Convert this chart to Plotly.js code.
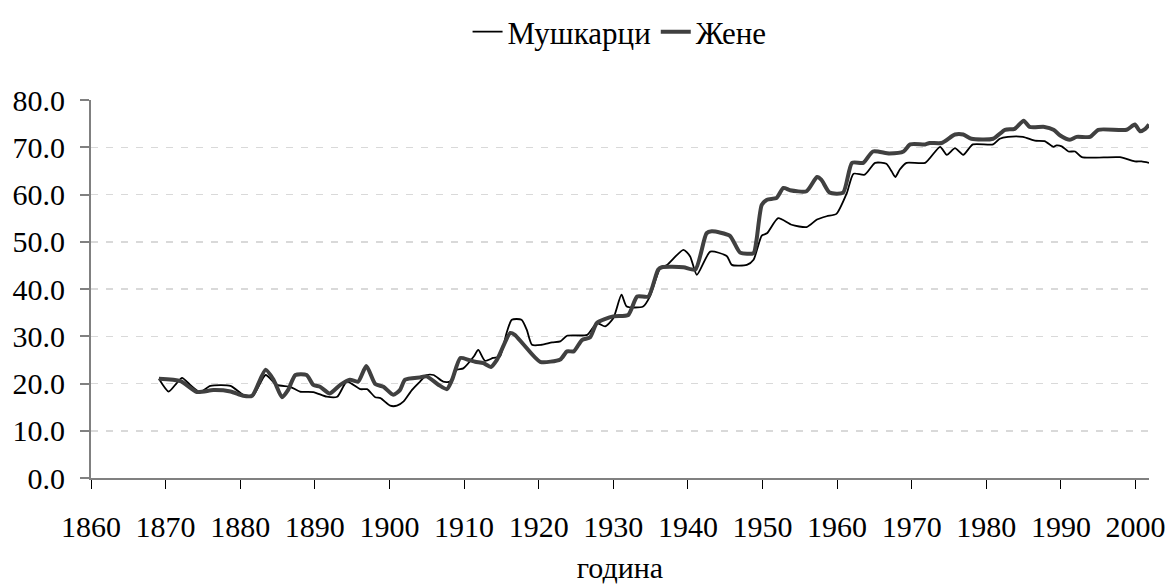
<!DOCTYPE html>
<html>
<head>
<meta charset="utf-8">
<script src="https://cdn.plot.ly/plotly-3.0.1.min.js"></script>
<style>html,body{margin:0;padding:0;background:#fff;}#chart{width:1169px;height:584px;}</style>
</head>
<body>
<div id="chart"></div>
<script>
// Мушкарци (men)
const maleYears = [1869.1,1870.4,1871.5,1872.2,1873.3,1874.6,1876.0,1878.7,1880.4,1881.7,1883.4,1884.9,1886.7,1888.0,1889.8,1891.6,1893.0,1894.3,1896.1,1897.0,1898.1,1898.8,1900.1,1901.0,1901.9,1903.0,1904.1,1905.0,1905.9,1907.2,1908.1,1909.0,1909.9,1911.3,1911.9,1912.8,1913.9,1914.8,1915.7,1916.4,1917.7,1918.4,1919.1,1920.4,1921.8,1922.9,1923.8,1926.5,1927.8,1928.9,1930.0,1931.1,1931.8,1934.0,1934.9,1936.3,1937.2,1939.4,1940.3,1941.2,1943.0,1945.2,1945.9,1947.9,1948.8,1949.9,1950.6,1952.1,1953.9,1955.9,1957.3,1958.6,1959.9,1961.3,1962.2,1963.7,1965.1,1966.6,1967.3,1967.8,1968.4,1969.3,1971.8,1973.8,1974.7,1975.8,1976.9,1978.2,1980.9,1981.8,1982.9,1984.9,1986.5,1987.8,1989.0,1989.4,1990.1,1991.0,1991.9,1992.8,1997.9,1999.9,2000.8,2001.8];
const maleValues = [21.0,18.3,20.1,21.2,19.7,18.2,19.5,19.5,17.6,17.4,21.8,19.7,19.3,18.3,18.2,17.2,17.2,20.4,18.8,18.8,17.1,16.9,15.3,15.3,16.2,18.6,20.4,21.8,21.8,20.4,20.4,22.9,23.2,25.7,27.1,24.8,25.4,25.7,30.7,33.5,33.5,31.4,28.2,28.2,28.7,28.9,30.1,30.3,32.8,32.1,33.8,38.8,36.3,36.3,38.4,44.4,45.1,48.3,46.9,43.0,47.9,47.0,45.1,45.1,46.2,51.3,51.8,55.0,53.6,53.1,54.7,55.4,55.9,60.3,64.4,64.2,66.7,66.5,64.9,63.7,65.3,66.7,66.7,70.1,68.4,69.8,68.4,70.6,70.6,71.8,72.2,72.2,71.4,71.3,70.1,70.4,70.2,69.1,69.1,67.9,67.9,67.0,67.0,66.7];

// Жене (women)
const femaleYears = [1869.1,1872.0,1874.2,1876.4,1878.7,1880.4,1881.6,1883.4,1884.5,1885.6,1886.4,1887.4,1888.9,1889.8,1890.7,1892.0,1893.4,1894.7,1895.8,1896.9,1898.1,1899.2,1900.5,1901.4,1902.1,1904.1,1905.0,1906.6,1907.7,1908.4,1909.5,1910.6,1911.5,1912.6,1913.6,1914.4,1916.2,1916.8,1918.0,1920.2,1922.9,1923.8,1924.7,1925.8,1926.9,1927.8,1930.0,1932.0,1933.2,1934.7,1936.0,1936.5,1939.4,1941.0,1942.5,1943.2,1945.6,1947.0,1948.8,1949.2,1949.9,1950.6,1951.9,1952.8,1953.7,1955.9,1957.3,1957.9,1959.0,1960.8,1962.0,1963.5,1964.8,1967.0,1968.9,1969.8,1971.8,1972.4,1974.0,1975.8,1976.9,1978.0,1980.9,1982.5,1983.8,1985.0,1985.8,1987.8,1989.0,1989.9,1991.2,1992.1,1993.9,1995.0,1998.8,1999.9,2000.6,2001.3,2001.8];
const femaleValues = [21.0,20.5,18.2,18.6,18.3,17.4,17.4,22.9,20.7,17.1,18.6,21.8,21.8,19.7,19.3,17.9,19.7,20.8,20.4,23.7,19.9,19.3,17.6,18.6,20.8,21.3,21.5,19.7,18.8,20.8,25.4,25.0,24.6,24.3,23.5,25.0,30.7,30.3,28.2,24.6,25.1,26.8,26.8,29.2,29.8,32.8,34.2,34.5,38.4,38.4,44.1,44.6,44.6,44.1,51.8,52.2,51.3,47.7,47.6,50.4,57.8,58.9,59.3,61.4,60.9,60.7,63.7,63.1,60.4,60.4,66.7,66.7,69.1,68.7,69.1,70.6,70.6,70.9,70.9,72.7,72.7,71.8,71.8,73.7,73.9,75.6,74.3,74.3,73.7,72.5,71.6,72.2,72.2,73.7,73.7,74.8,73.4,73.9,74.8];

const xTicks = [1860,1870,1880,1890,1900,1910,1920,1930,1940,1950,1960,1970,1980,1990,2000];
const yTicks = [0,10,20,30,40,50,60,70,80];

const FONT = 'Liberation Serif';

const traces = [
  {x: maleYears, y: maleValues, name: 'Мушкарци', type: 'scatter', mode: 'lines',
   line: {color: '#000000', width: 1.8, shape: 'spline', smoothing: 0.6}},
  {x: femaleYears, y: femaleValues, name: 'Жене', type: 'scatter', mode: 'lines',
   line: {color: '#404040', width: 4, shape: 'spline', smoothing: 0.6}}
];

const layout = {
  width: 1169, height: 584,
  margin: {l: 91, r: 20, t: 100, b: 106},
  paper_bgcolor: '#ffffff', plot_bgcolor: '#ffffff',
  font: {family: FONT, color: '#000000', size: 28},
  showlegend: true,
  legend: {orientation: 'h', x: 0.53, xanchor: 'center', xref: 'container', yref: 'container',
           y: 1 - 32/584, yanchor: 'middle',
           font: {family: FONT, size: 31, color: '#000'}, traceorder: 'normal',
           bgcolor: 'rgba(0,0,0,0)'},
  xaxis: {
    range: [1860, 2001.8], tickmode: 'array', tickvals: xTicks,
    ticktext: xTicks.map(String),
    ticks: 'outside', ticklen: 9, tickcolor: '#000', tickwidth: 1,
    ticklabelstandoff: 12,
    showline: true, linecolor: '#808080', linewidth: 2,
    showgrid: false, zeroline: false,
    tickfont: {family: FONT, size: 30, color: '#000'},
    title: {text: 'година', font: {family: FONT, size: 30, color: '#000'}, standoff: 16}
  },
  yaxis: {
    range: [0, 80], tickmode: 'array', tickvals: yTicks,
    ticktext: yTicks.map(v => v.toFixed(1)),
    ticks: 'outside', ticklen: 9, tickcolor: '#808080', tickwidth: 2,
    ticklabelstandoff: 9,
    showline: true, linecolor: '#808080', linewidth: 2,
    showgrid: true, gridcolor: '#d9d9d9', gridwidth: 1.5, griddash: '7px,8px',
    zeroline: false,
    tickfont: {family: FONT, size: 30, color: '#000'}
  }
};

Plotly.newPlot('chart', traces, layout, {staticPlot: true, displayModeBar: false});
</script>
</body>
</html>
